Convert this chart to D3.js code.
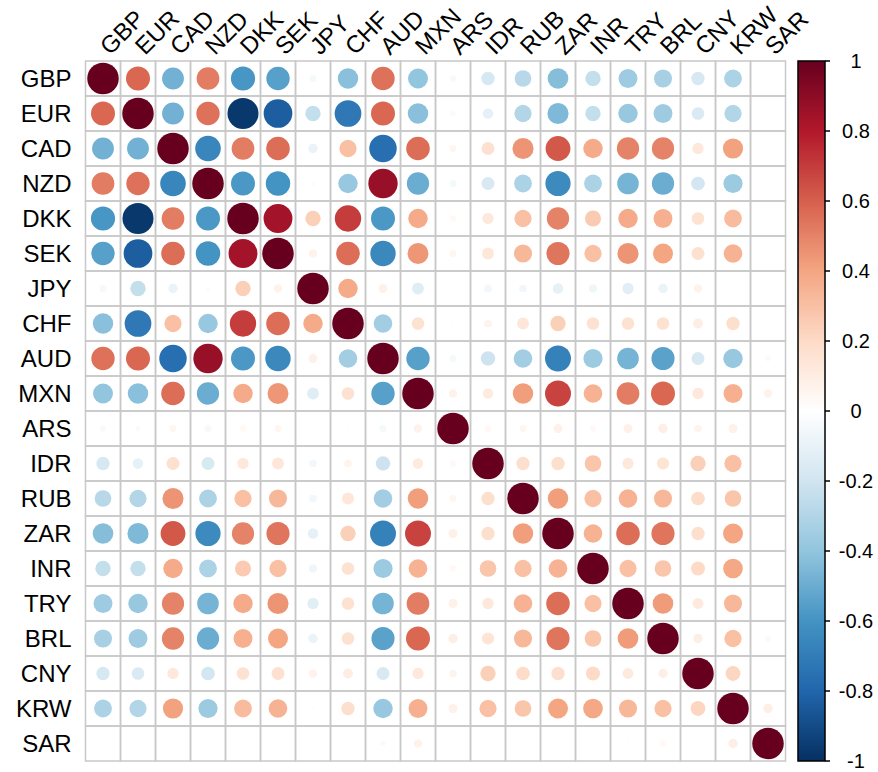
<!DOCTYPE html>
<html>
<head>
<meta charset="utf-8">
<script src="https://cdn.jsdelivr.net/npm/d3@7"></script>
<style>
  html, body { margin: 0; padding: 0; background: #ffffff; }
  svg { display: block; }
  text { font-family: "Liberation Sans", Arial, sans-serif; fill: #000; }
</style>
</head>
<body>
<svg id="chart" width="878" height="772"></svg>
<script>
// ---- data ----
const currencies = ["GBP","EUR","CAD","NZD","DKK","SEK","JPY","CHF","AUD","MXN",
                    "ARS","IDR","RUB","ZAR","INR","TRY","BRL","CNY","KRW","SAR"];

const rowGBP = [ 1.00, 0.58,-0.48, 0.52,-0.59,-0.55,-0.05,-0.42, 0.55,-0.40,-0.04,-0.18,-0.28,-0.43,-0.24,-0.36,-0.33,-0.18,-0.32,-0.01];
const rowEUR = [ 0.58, 1.00,-0.48, 0.55,-0.97,-0.83,-0.24,-0.72, 0.58,-0.42,-0.03,-0.11,-0.30,-0.45,-0.24,-0.38,-0.36,-0.16,-0.30,-0.01];
const rowCAD = [-0.48,-0.48, 1.00,-0.66, 0.52, 0.56,-0.09, 0.30,-0.76, 0.56, 0.05, 0.17, 0.45, 0.62, 0.38, 0.50, 0.50, 0.13, 0.41, 0.01];
const rowNZD = [ 0.52, 0.55,-0.66, 1.00,-0.58,-0.60, 0.02,-0.38, 0.87,-0.50,-0.05,-0.17,-0.32,-0.64,-0.32,-0.47,-0.50,-0.19,-0.37,-0.01];
const rowDKK = [-0.59,-0.97, 0.52,-0.58, 1.00, 0.84, 0.24, 0.70,-0.58, 0.38, 0.04, 0.13, 0.30, 0.50, 0.26, 0.38, 0.36, 0.16, 0.32, 0.00];
const rowSEK = [-0.55,-0.83, 0.56,-0.60, 0.84, 1.00, 0.07, 0.56,-0.65, 0.44, 0.05, 0.14, 0.33, 0.54, 0.30, 0.45, 0.40, 0.17, 0.35, 0.01];
const rowJPY = [-0.05,-0.24,-0.09, 0.02, 0.24, 0.07, 1.00, 0.38, 0.08,-0.14,-0.01,-0.06,-0.06,-0.11,-0.07,-0.13,-0.09, 0.07, 0.01, 0.00];
const rowCHF = [-0.42,-0.72, 0.30,-0.38, 0.70, 0.56, 0.38, 1.00,-0.35, 0.16, 0.01, 0.06, 0.14, 0.24, 0.16, 0.16, 0.16, 0.10, 0.18, 0.00];
const rowAUD = [ 0.55, 0.58,-0.76, 0.87,-0.58,-0.65, 0.08,-0.35, 1.00,-0.55,-0.05,-0.21,-0.35,-0.68,-0.37,-0.47,-0.54,-0.17,-0.38,-0.03];
const rowMXN = [-0.40,-0.42, 0.56,-0.50, 0.38, 0.44,-0.14, 0.16,-0.55, 1.00, 0.07, 0.11, 0.42, 0.68, 0.35, 0.52, 0.58, 0.13, 0.36, 0.07];
const rowARS = [-0.04,-0.03, 0.05,-0.05, 0.04, 0.05,-0.01, 0.01,-0.05, 0.07, 1.00, 0.04, 0.05, 0.08, 0.04, 0.08, 0.09, 0.06, 0.08,-0.01];
const rowIDR = [-0.18,-0.11, 0.17,-0.17, 0.13, 0.14,-0.06, 0.06,-0.21, 0.11, 0.04, 1.00, 0.18, 0.18, 0.28, 0.13, 0.15, 0.24, 0.30, 0.01];
const rowRUB = [-0.28,-0.30, 0.45,-0.32, 0.30, 0.33,-0.06, 0.14,-0.35, 0.42, 0.05, 0.18, 1.00, 0.42, 0.30, 0.35, 0.33, 0.19, 0.28, 0.01];
const rowZAR = [-0.43,-0.45, 0.62,-0.64, 0.50, 0.54,-0.11, 0.24,-0.68, 0.68, 0.08, 0.18, 0.42, 1.00, 0.35, 0.56, 0.54, 0.18, 0.40, 0.01];
const rowINR = [-0.24,-0.24, 0.38,-0.32, 0.26, 0.30,-0.07, 0.16,-0.37, 0.35, 0.04, 0.28, 0.30, 0.35, 1.00, 0.30, 0.28, 0.20, 0.39, 0.00];
const rowTRY = [-0.36,-0.38, 0.50,-0.47, 0.38, 0.45,-0.13, 0.16,-0.47, 0.52, 0.08, 0.13, 0.35, 0.56, 0.30, 1.00, 0.43, 0.12, 0.33, 0.01];
const rowBRL = [-0.33,-0.36, 0.50,-0.50, 0.36, 0.40,-0.09, 0.16,-0.54, 0.58, 0.09, 0.15, 0.33, 0.54, 0.28, 0.43, 1.00, 0.09, 0.30, 0.04];
const rowCNY = [-0.18,-0.16, 0.13,-0.19, 0.16, 0.17, 0.07, 0.10,-0.17, 0.13, 0.06, 0.24, 0.19, 0.18, 0.20, 0.12, 0.09, 1.00, 0.22, 0.01];
const rowKRW = [-0.32,-0.30, 0.41,-0.37, 0.32, 0.35, 0.01, 0.18,-0.38, 0.36, 0.08, 0.30, 0.28, 0.40, 0.39, 0.33, 0.30, 0.22, 1.00, 0.09];
const rowSAR = [-0.01,-0.01, 0.01,-0.01, 0.00, 0.01, 0.00, 0.00,-0.03, 0.07,-0.01, 0.01, 0.01, 0.01, 0.00, 0.01, 0.04, 0.01, 0.09, 1.00];

const legendTicks = [1, 0.8, 0.6, 0.4, 0.2, 0, -0.2, -0.4, -0.6, -0.8, -1];
const legendLabels = ["1", "0.8", "0.6", "0.4", "0.2", "0", "-0.2", "-0.4", "-0.6", "-0.8", "-1"];

// RdBu palette as used by corrplot (from -1 to +1)
const paletteColors = ["#053061","#2166AC","#4393C3","#92C5DE","#D1E5F0","#FFFFFF",
                       "#FDDBC7","#F4A582","#D6604D","#B2182B","#67001F"];

// ---- build ----
const matrixRows = [rowGBP,rowEUR,rowCAD,rowNZD,rowDKK,rowSEK,rowJPY,rowCHF,rowAUD,rowMXN,
                    rowARS,rowIDR,rowRUB,rowZAR,rowINR,rowTRY,rowBRL,rowCNY,rowKRW,rowSAR];
const cells = [];
matrixRows.forEach((row, i) => row.forEach((v, j) => cells.push({r: currencies[i], c: currencies[j], v})));

const svg = d3.select("#chart");
const gridL = 85.5, gridR = 785.5, gridT = 61, gridB = 761;

const x = d3.scaleBand().domain(currencies).range([gridL, gridR]).padding(0);
const y = d3.scaleBand().domain(currencies).range([gridT, gridB]).padding(0);
const bw = x.bandwidth();

const color = d3.scaleLinear()
  .domain(d3.range(paletteColors.length).map(k => -1 + 2 * k / (paletteColors.length - 1)))
  .range(paletteColors)
  .interpolate(d3.interpolateRgb);

// grid cells
svg.append("g").selectAll("rect").data(cells).join("rect")
  .attr("x", d => x(d.c)).attr("y", d => y(d.r))
  .attr("width", bw).attr("height", bw)
  .attr("fill", "none").attr("stroke", "#c8c8c8").attr("stroke-width", 1.5);

// circles
svg.append("g").selectAll("circle").data(cells).join("circle")
  .attr("cx", d => x(d.c) + bw / 2)
  .attr("cy", d => y(d.r) + bw / 2)
  .attr("r", d => 0.45 * bw * Math.sqrt(Math.abs(d.v)))
  .attr("fill", d => color(d.v));

// row labels
svg.append("g").selectAll("text").data(currencies).join("text")
  .attr("x", gridL - 14)
  .attr("y", d => y(d) + bw / 2)
  .attr("dy", "0.35em")
  .attr("text-anchor", "end")
  .style("font-size", "24px")
  .text(d => d);

// column labels
svg.append("g").selectAll("text").data(currencies).join("text")
  .attr("transform", d => `translate(${x(d) + bw / 2 + 7},${gridT - 5}) rotate(-45)`)
  .attr("text-anchor", "start")
  .style("font-size", "24px")
  .text(d => d);

// color legend
const legX = 798, legW = 27;
const ly = d3.scaleLinear().domain([-1, 1]).range([gridB, gridT]);
const defs = svg.append("defs");
const grad = defs.append("linearGradient").attr("id", "lg")
  .attr("x1", 0).attr("y1", 1).attr("x2", 0).attr("y2", 0);
grad.selectAll("stop").data(paletteColors).join("stop")
  .attr("offset", (d, k) => k / (paletteColors.length - 1))
  .attr("stop-color", d => d);
svg.append("rect")
  .attr("x", legX).attr("y", ly(1)).attr("width", legW).attr("height", ly(-1) - ly(1))
  .attr("fill", "url(#lg)").attr("stroke", "#000").attr("stroke-width", 1.5);

const legAxis = svg.append("g");
legAxis.selectAll("line").data(legendTicks).join("line")
  .attr("x1", legX + legW).attr("x2", legX + legW + 5)
  .attr("y1", d => ly(d)).attr("y2", d => ly(d))
  .attr("stroke", "#000").attr("stroke-width", 1.5);
legAxis.selectAll("text").data(legendTicks).join("text")
  .attr("x", 856)
  .attr("y", d => ly(d))
  .attr("dy", "0.35em")
  .attr("text-anchor", "middle")
  .style("font-size", "20px")
  .text((d, k) => legendLabels[k]);
</script>
</body>
</html>
